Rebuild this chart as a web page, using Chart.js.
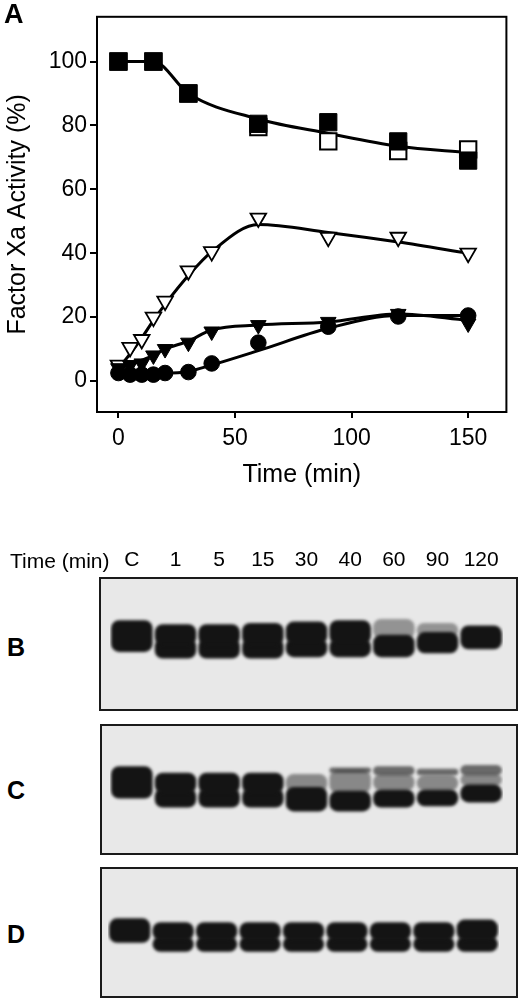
<!DOCTYPE html>
<html>
<head>
<meta charset="utf-8">
<script src="https://cdn.jsdelivr.net/npm/chart.js@4/dist/chart.umd.min.js"></script>
<style>
  body { margin: 0; background: #fff; width: 520px; height: 1001px; position: relative; overflow: hidden;
         font-family: "Liberation Sans", Arial, sans-serif; color: #000; }
  canvas, .lbl { position: absolute; }
  .panel { font-weight: bold; font-size: 25px; line-height: 28px; }
  .txt { font-size: 21px; line-height: 24px; }
</style>
</head>
<body>
<canvas id="chartA" width="520" height="500" style="left:0;top:0"></canvas>
<canvas id="blotB" width="419" height="172" style="left:99px;top:540px"></canvas>
<canvas id="blotC" width="418" height="131" style="left:100px;top:724px"></canvas>
<canvas id="blotD" width="418" height="131" style="left:100px;top:867px"></canvas>

<div class="lbl panel" style="left:4px;top:0px;font-size:27px">A</div>
<div class="lbl txt" style="left:10px;top:549px">Time (min)</div>
<div class="lbl panel" style="left:7px;top:633px">B</div>
<div class="lbl panel" style="left:7px;top:776px">C</div>
<div class="lbl panel" style="left:7px;top:920px">D</div>

<script>
// ---- panel A: factor Xa activity (%) vs time (min)
const sqTimes = [0, 15, 30, 60, 90, 120, 150];
const sqFilled = [100, 100, 90, 80.5, 81, 75, 69];
const sqOpen = [100, 100, 90, 79.5, 75, 72, 72.5];
const sqFit = [100, 100, 90, 82, 77.5, 73.5, 71.5];

const times = [0, 5, 10, 15, 20, 30, 40, 60, 90, 120, 150];
const triOpen = [5, 10.5, 13, 20, 25, 34.5, 40.5, 51, 45, 45, 40];
const triOpenFit = [4, 8.5, 13.5, 19, 24, 33, 40.5, 49, 46.5, 43.5, 40];
const triFilled = [4, 5, 5.5, 8, 10, 12, 15.5, 17.5, 18.5, 21, 18];
const triFilledFit = [4, 5, 6.5, 8, 10, 12.5, 16, 17.5, 18.5, 21, 19];
const circles = [2.5, 2, 2, 2, 2.5, 2.8, 5.5, 12, 17, 20.2, 20.5];
const circlesFit = [3, 2.5, 2.5, 2.5, 2.5, 3, 5, 9.5, 16.5, 20.5, 20.5];

const xTicks = [0, 50, 100, 150];
const yTicks = [0, 20, 40, 60, 80, 100];

// ---- panels B-D: western blots, band extents in % of blot height (top = 0)
const lanes = ['C', '1', '5', '15', '30', '40', '60', '90', '120'];
const bUpper = [[32, 56], [35, 51], [35, 51], [34, 51], [33, 50], [32, 50], null, null, null];
const bLower = [null, [46, 61], [46, 61], [46, 61], [46, 60], [46, 60], [43, 60], [41, 57], [36, 54]];
const bSmear = [null, null, null, null, null, null, [31, 46], [34, 45], null];

const cUpper = [[32, 57], [37, 53], [37, 53], [37, 53], null, null, null, null, null];
const cLower = [null, [49, 64], [49, 64], [49, 64], [48, 67], [51, 67], [50, 64], [50, 63], [46, 60]];
const cSmear = [null, null, null, null, [38, 52], [35, 53], [38, 51], [39, 51], [38, 47]];
const cHigh = [null, null, null, null, null, [33, 37], [32, 39], [34, 39], [31, 39]];

const dUpper = [[39, 58], [42, 56], [42, 56], [42, 56], [42, 56], [42, 56], [42, 56], [42, 56], [40, 56]];
const dLower = [null, [53, 65], [53, 65], [53, 65], [53, 65], [53, 65], [53, 65], [53, 65], [53, 65]];

const FONT = '"Liberation Sans", Arial, sans-serif';
Chart.defaults.font.family = FONT;
Chart.defaults.color = '#000';

let pts = (xs, ys) => xs.map((x, i) => ({x: x, y: ys[i]}));

const frame = {
    id: 'frame',
    afterDraw(chart) {
        const {ctx, chartArea: a} = chart;
        ctx.save();
        ctx.lineWidth = 2;
        ctx.strokeStyle = '#000';
        ctx.strokeRect(a.left, a.top, a.right - a.left, a.bottom - a.top);
        ctx.restore();
    }
};

let fit = (label, xs, ys) => ({
    label: label, data: pts(xs, ys), showLine: true, pointRadius: 0,
    borderColor: '#000', borderWidth: 3, cubicInterpolationMode: 'monotone', order: 10
});

let marks = (label, xs, ys, style, r, fill, bw, order, rot) => ({
    label: label, data: pts(xs, ys), showLine: false,
    pointStyle: style, pointRadius: r, pointRotation: rot || 0,
    pointBackgroundColor: fill, pointBorderColor: '#000', pointBorderWidth: bw, order: order
});

new Chart(document.getElementById('chartA'), {
    type: 'scatter',
    data: {
        datasets: [
            marks('filled squares', sqTimes, sqFilled, 'rect', 12.2, '#000', 1, 1),
            marks('open squares', sqTimes, sqOpen, 'rect', 11.6, '#fff', 2, 2),
            marks('circles', times, circles, 'circle', 7.8, '#000', 1, 3),
            marks('filled triangles', times, triFilled, 'triangle', 9, '#000', 1, 4, 180),
            marks('open triangles', times, triOpen, 'triangle', 9, '#fff', 1.8, 5, 180),
            fit('squares fit', sqTimes, sqFit),
            fit('open triangles fit', times, triOpenFit),
            fit('filled triangles fit', times, triFilledFit),
            fit('circles fit', times, circlesFit)
        ]
    },
    options: {
        responsive: false,
        animation: false,
        layout: {padding: {left: 0, right: 5, top: 3, bottom: 0}},
        plugins: {legend: {display: false}, tooltip: {enabled: false}},
        scales: {
            x: {
                type: 'linear', min: -9.2, max: 166.4,
                afterBuildTicks: s => { s.ticks = xTicks.map(v => ({value: v})); },
                afterFit: s => { s.height = 88; },
                grid: {drawOnChartArea: false, drawTicks: true, tickLength: 6, color: '#000', lineWidth: 2},
                border: {display: false},
                ticks: {font: {size: 23}, padding: 7, maxRotation: 0},
                title: {display: true, text: 'Time (min)', font: {size: 25}, padding: {top: 0, bottom: 10}}
            },
            y: {
                type: 'linear', min: -9.7, max: 114,
                afterBuildTicks: s => { s.ticks = yTicks.map(v => ({value: v})); },
                afterFit: s => { s.width = 97; },
                grid: {drawOnChartArea: false, drawTicks: true, tickLength: 7, color: '#000', lineWidth: 2},
                border: {display: false},
                ticks: {font: {size: 23}, padding: 3},
                title: {display: true, text: 'Factor Xa Activity (%)', font: {size: 25}, padding: {top: 3, bottom: 0}}
            }
        }
    },
    plugins: [frame]
});

// blot background, soft band edges and border
const blotStyle = {
    id: 'blotStyle',
    beforeDraw(chart) {
        const {ctx, chartArea: a, width} = chart;
        ctx.save();
        ctx.fillStyle = '#e8e8e8';
        ctx.fillRect(0, a.top, width, a.bottom - a.top);
        ctx.restore();
    },
    beforeDatasetsDraw(chart) {
        chart.ctx.save();
        chart.ctx.filter = 'blur(1.4px)';
    },
    afterDatasetsDraw(chart) {
        chart.ctx.restore();
    },
    afterDraw(chart) {
        const {ctx, chartArea: a, width} = chart;
        ctx.save();
        ctx.lineWidth = 2;
        ctx.strokeStyle = '#1a1a1a';
        ctx.strokeRect(1, a.top, width - 2, a.bottom - a.top);
        ctx.restore();
    }
};

let band = (label, data, color, order) => ({
    label: label, data: data, backgroundColor: color, grouped: false,
    categoryPercentage: 1, barPercentage: 0.95, borderRadius: 8, borderSkipped: false, order: order
});

let blot = (id, datasets, pad, showLanes) => new Chart(document.getElementById(id), {
    type: 'bar',
    data: {labels: lanes, datasets: datasets},
    options: {
        responsive: false,
        animation: false,
        layout: {padding: pad},
        plugins: {legend: {display: false}, tooltip: {enabled: false}},
        scales: {
            x: {
                display: showLanes, position: 'top',
                afterFit: s => { if (showLanes) s.height = 38; },
                grid: {display: false, drawTicks: false},
                border: {display: false},
                ticks: {font: {size: 21}, padding: 5, maxRotation: 0}
            },
            y: {display: false, min: 0, max: 100, reverse: true}
        }
    },
    plugins: [blotStyle]
});

blot('blotB', [
    band('upper', bUpper, '#141414', 1),
    band('lower', bLower, '#141414', 2),
    band('smear', bSmear, 'rgba(20,20,20,0.4)', 3)
], {left: 11, right: 15, top: 0, bottom: 2}, true);

blot('blotC', [
    band('upper', cUpper, '#141414', 1),
    band('lower', cLower, '#141414', 2),
    band('smear', cSmear, 'rgba(20,20,20,0.45)', 3),
    band('high', cHigh, 'rgba(20,20,20,0.6)', 4)
], {left: 10, right: 15, top: 1, bottom: 1}, false);

blot('blotD', [
    band('upper', dUpper, '#141414', 1),
    band('lower', dLower, '#141414', 2)
], {left: 8, right: 19, top: 1, bottom: 1}, false);
</script>
</body>
</html>
